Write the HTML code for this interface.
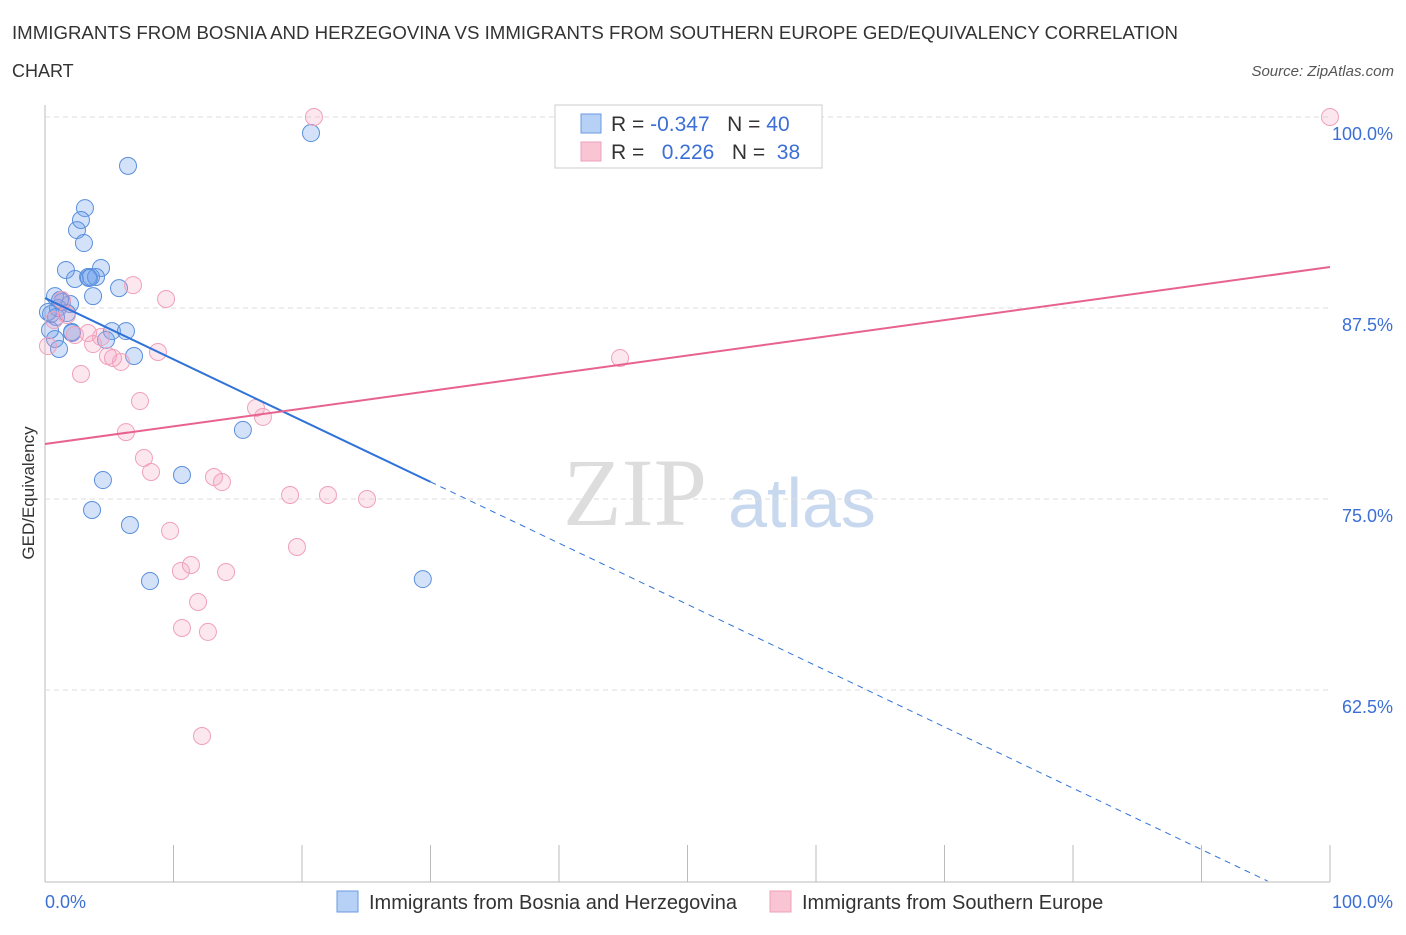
<!DOCTYPE html>
<html><head><meta charset="utf-8"><style>
body{margin:0;background:#fff;font-family:"Liberation Sans",sans-serif;}
</style></head><body>
<svg id="c" width="1406" height="930" xmlns="http://www.w3.org/2000/svg">
<text x="12" y="39" font-size="18" fill="#333" textLength="1166" lengthAdjust="spacingAndGlyphs">IMMIGRANTS FROM BOSNIA AND HERZEGOVINA VS IMMIGRANTS FROM SOUTHERN EUROPE GED/EQUIVALENCY CORRELATION</text>
<text x="12" y="77" font-size="18" fill="#333">CHART</text>
<text x="1394" y="76" font-size="15" fill="#555" font-style="italic" text-anchor="end">Source: ZipAtlas.com</text>
<text x="635" y="525" font-size="96" fill="#ddd" font-family="Liberation Serif,serif" text-anchor="middle">ZIP</text>
<text x="802" y="527" font-size="70" fill="#c8d8ee" text-anchor="middle">atlas</text>
<text transform="translate(34,493) rotate(-90)" font-size="17" fill="#333" text-anchor="middle">GED/Equivalency</text>
<g id="grid"></g><g id="marks"></g>
<rect x="555" y="105" width="267" height="63" fill="#fff" stroke="#ccc"/>
<rect x="581" y="114" width="20" height="19" fill="#b7d0f5" stroke="#6a9ae0"/>
<rect x="581" y="142" width="20" height="19" fill="#f9c5d5" stroke="#eea0b8"/>
<text x="611" y="131" font-size="21" fill="#333">R = <tspan fill="#3b6fd6">-0.347</tspan>&#160;&#160;&#160;N = <tspan fill="#3b6fd6">40</tspan></text>
<text x="611" y="159" font-size="21" fill="#333">R = &#160;&#160;<tspan fill="#3b6fd6">0.226</tspan>&#160;&#160;&#160;N = &#160;<tspan fill="#3b6fd6">38</tspan></text>
<rect x="337" y="891" width="21" height="21" fill="#b7d0f5" stroke="#6a9ae0"/>
<text x="369" y="909" font-size="20" fill="#333">Immigrants from Bosnia and Herzegovina</text>
<rect x="770" y="891" width="21" height="21" fill="#f9c5d5" stroke="#eea0b8"/>
<text x="802" y="909" font-size="20" fill="#333">Immigrants from Southern Europe</text>
</svg>
<script>
const yTicks=[100,87.5,75,62.5];
const yTickLabels=["100.0%","87.5%","75.0%","62.5%"];
const xTicks=[0,10,20,30,40,50,60,70,80,90,100];
const blueX=[20.7,6.46,3.11,2.8,2.49,3.03,1.63,4.36,2.33,3.35,3.58,3.97,5.76,3.74,0.78,1.32,1.95,1.01,0.47,0.86,5.21,6.3,2.1,4.75,0.78,1.09,6.93,15.4,10.66,4.51,3.66,6.61,8.17,29.4,0.23,1.71,1.17,3.42,2.1,0.39];
const blueY=[98.95,96.8,94.04,93.26,92.6,91.75,89.99,90.12,89.4,89.53,89.53,89.53,88.8,88.28,88.28,87.89,87.76,87.5,87.11,86.91,85.99,85.99,85.86,85.41,85.47,84.82,84.36,79.52,76.57,76.24,74.28,73.3,69.63,69.76,87.24,87.17,88.02,89.46,85.93,86.06];
const pinkX=[20.93,100,6.85,9.42,1.32,1.71,0.7,3.35,2.33,4.36,3.74,5.29,5.91,4.9,8.79,0.23,2.8,7.39,16.42,16.96,6.3,7.7,8.25,13.15,13.77,19.07,22.02,25.06,9.73,19.61,11.36,10.58,14.09,11.91,10.66,12.68,12.22,44.75];
const pinkY=[100,100,89.0,88.09,88.02,87.04,86.71,85.86,85.73,85.6,85.14,84.23,83.97,84.36,84.62,85.01,83.18,81.41,80.96,80.37,79.38,77.68,76.77,76.44,76.11,75.26,75.26,75.0,72.91,71.86,70.68,70.29,70.22,68.26,66.56,66.3,59.49,84.23];
const blueTrend=[88.15,-0.401,30];
const pinkTrend=[78.6,0.1158];
const NS="http://www.w3.org/2000/svg";
const X=v=>45+v*12.85, Y=v=>117+(100-v)*15.28;
function mk(t,a,p){const e=document.createElementNS(NS,t);for(const k in a)e.setAttribute(k,a[k]);p.appendChild(e);return e;}
const g=document.getElementById('grid'),m=document.getElementById('marks');
let ax=mk('line',{x1:45,y1:105,x2:45,y2:882,stroke:'#bbb'},g);


let bx=mk('line',{x1:45,y1:882,x2:1330,y2:882,stroke:'#bbb'},g);


yTicks.forEach((v,i)=>{
 let l=mk('line',{x1:45,y1:Y(v),x2:1330,y2:Y(v),stroke:'#ddd','stroke-dasharray':'5,4'},g);
 
 
 let t=mk('text',{x:1393,y:Y(v)+23,'font-size':18,fill:'#3b6fd6','text-anchor':'end'},g);t.textContent=yTickLabels[i];
 
 
});
xTicks.forEach(v=>{
 let l=mk('line',{x1:X(v),y1:845,x2:X(v),y2:882,stroke:'#bbb'},g);
 
 
});
[[0,"0.0%","start",45],[100,"100.0%","end",1393]].forEach(a=>{
 let t=mk('text',{x:a[3],y:908,'font-size':18,fill:'#3b6fd6','text-anchor':a[2]},g);t.textContent=a[1];
 
 
});
blueX.forEach((x,i)=>{
 let c=mk('circle',{cx:X(x),cy:Y(blueY[i]),r:8.5,fill:'rgba(110,160,235,0.3)',stroke:'#5b8fdc','stroke-width':1},m);
 
 
});
pinkX.forEach((x,i)=>{
 let c=mk('circle',{cx:X(x),cy:Y(pinkY[i]),r:8.5,fill:'rgba(245,160,190,0.25)',stroke:'#f0a0bb','stroke-width':1},m);
 
 
});
const bf=x=>blueTrend[0]+blueTrend[1]*x;
let b1=mk('line',{x1:X(0),y1:Y(bf(0)),x2:X(blueTrend[2]),y2:Y(bf(blueTrend[2])),stroke:'#2f72d8','stroke-width':2},m);


let xe=(50-blueTrend[0])/blueTrend[1];
let b2=mk('line',{x1:X(blueTrend[2]),y1:Y(bf(blueTrend[2])),x2:X(xe),y2:Y(50),stroke:'#2f72d8','stroke-width':1,'stroke-dasharray':'6,5'},m);


const pf=x=>pinkTrend[0]+pinkTrend[1]*x;
let p1=mk('line',{x1:X(0),y1:Y(pf(0)),x2:X(100),y2:Y(pf(100)),stroke:'#e8628f','stroke-width':2},m);


</script>
</body></html>
